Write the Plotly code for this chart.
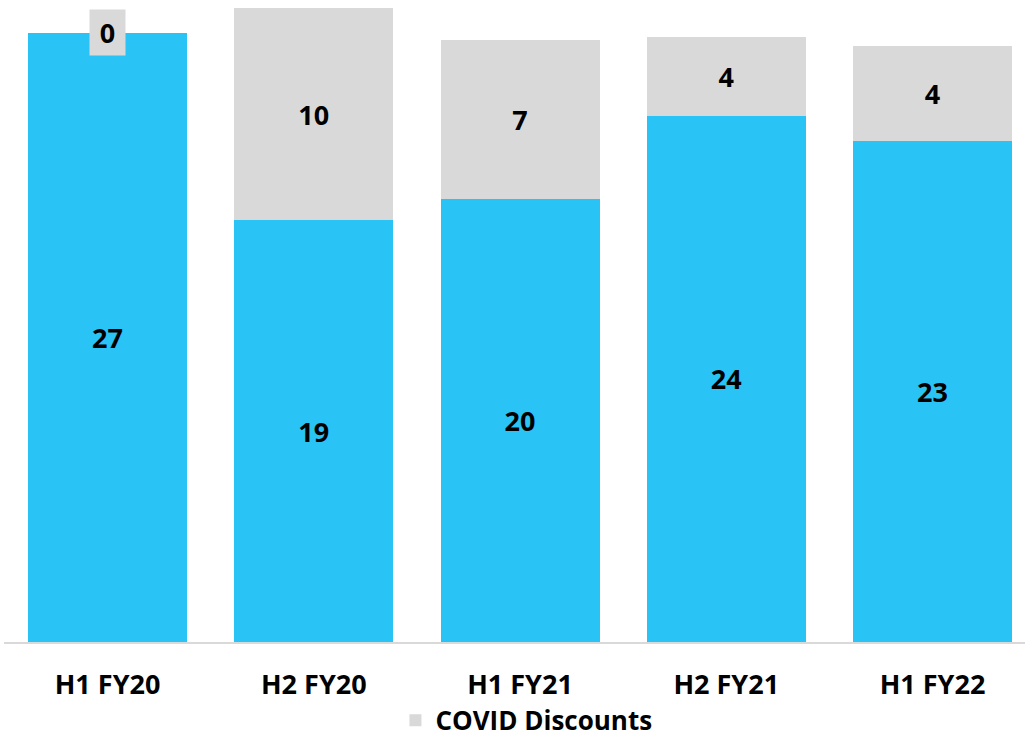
import plotly.graph_objects as go

categories = ["H1 FY20", "H2 FY20", "H1 FY21", "H2 FY21", "H1 FY22"]
base_values = [27.45, 19.0, 19.95, 23.7, 22.55]
covid_values = [0, 9.55, 7.16, 3.55, 4.3]
series_names = ["Base", "COVID Discounts"]

BLUE = "#29C3F5"
GRAY = "#D9D9D9"
FONT = "Open Sans"

fig = go.Figure()
fig.add_trace(go.Bar(
    x=categories, y=base_values, name=series_names[0],
    marker=dict(color=BLUE, line=dict(width=0)),
    width=0.771, showlegend=False,
    text=[f"{v:.0f}" for v in base_values], textposition="inside",
    insidetextanchor="middle",
    textfont=dict(family=FONT, size=27, color="black", weight="bold"),
))
fig.add_trace(go.Bar(
    x=categories, y=covid_values, name=series_names[1],
    marker=dict(color=GRAY, line=dict(width=0)),
    width=0.771,
    text=["" if v == 0 else f"{v:.0f}" for v in covid_values], textposition="inside",
    insidetextanchor="middle",
    textfont=dict(family=FONT, size=27, color="black", weight="bold"),
))

fig.add_annotation(
    x=categories[0], y=base_values[0] + covid_values[0], xref="x", yref="y",
    text=f"{covid_values[0]:.0f}", showarrow=False,
    bgcolor=GRAY, width=33, height=43, yanchor="middle",
    font=dict(family=FONT, size=27, color="black", weight="bold"),
)

fig.update_layout(
    barmode="stack",
    width=1025, height=738,
    margin=dict(l=4, r=0, t=0, b=96, autoexpand=False),
    plot_bgcolor="white", paper_bgcolor="white",
    uniformtext=dict(mode=False),
    xaxis=dict(
        range=[-0.502, 4.4485], showgrid=False, showline=True,
        linecolor=GRAY, linewidth=2, ticks="", ticklabelstandoff=18,
        tickfont=dict(family=FONT, size=27, color="black", weight="bold"),
    ),
    yaxis=dict(range=[0, 28.92], visible=False, showgrid=False, zeroline=False),
    legend=dict(
        orientation="h", x=0.5117, xanchor="center",
        yref="container", y=0.024, yanchor="middle",
        bgcolor="rgba(0,0,0,0)",
        font=dict(family=FONT, size=26, color="black", weight="bold"),
    ),
)

fig.write_html("out.html")
